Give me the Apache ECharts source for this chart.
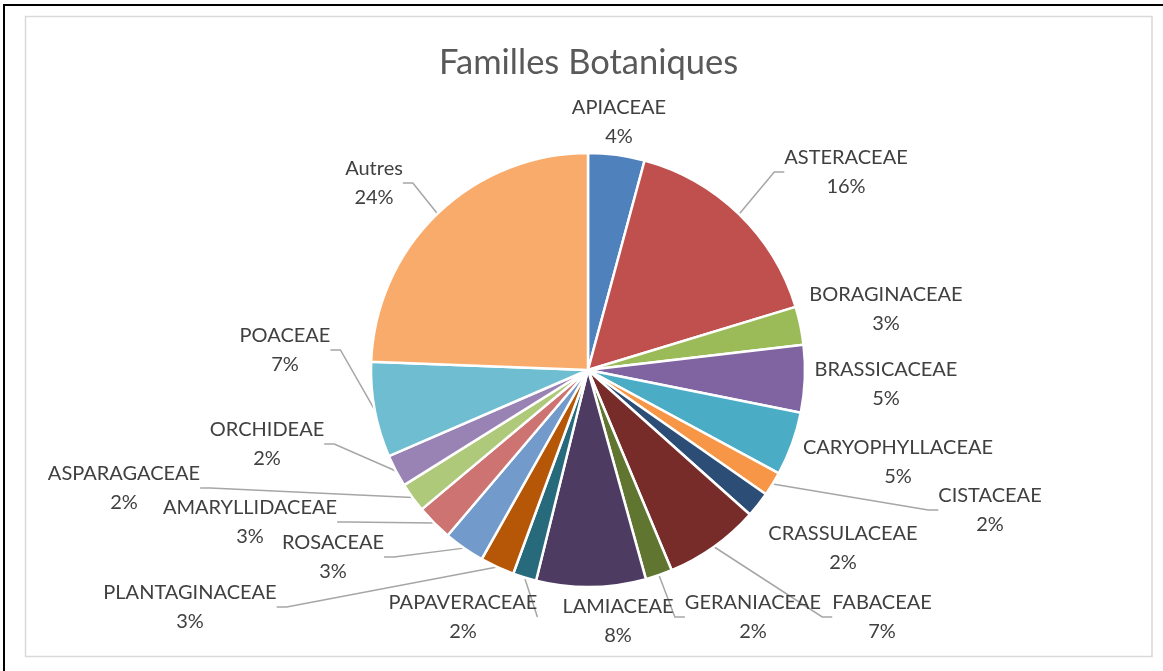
<!DOCTYPE html>
<html>
<head>
<meta charset="utf-8">
<script src="https://cdn.jsdelivr.net/npm/echarts@6/dist/echarts.min.js"></script>
<style>
html,body{margin:0;padding:0;background:#fff;}
#chart{width:1163px;height:671px;}
</style>
</head>
<body>
<div id="chart"></div>
<script>
const categories = ['APIACEAE','ASTERACEAE','BORAGINACEAE','BRASSICACEAE','CARYOPHYLLACEAE','CISTACEAE','CRASSULACEAE','FABACEAE','GERANIACEAE','LAMIACEAE','PAPAVERACEAE','PLANTAGINACEAE','ROSACEAE','AMARYLLIDACEAE','ASPARAGACEAE','ORCHIDEAE','POACEAE','Autres'];
const values = [4.2, 16.1, 2.85, 5.0, 4.75, 1.8, 1.9, 7.1, 2.0, 8.15, 1.75, 2.55, 3.05, 2.7, 2.2, 2.4, 7.1, 24.4];
const colors = ['#4F81BD','#C0504D','#9BBB59','#8064A2','#4BACC6','#F79646','#2C4D75','#772C2A','#5F7530','#4D3B62','#276A7C','#B65708','#729ACA','#CD7371','#AFC97A','#9983B5','#6FBDD1','#F9AB6B'];
const noLeader = ['APIACEAE','BORAGINACEAE','BRASSICACEAE','CARYOPHYLLACEAE','CRASSULACEAE','LAMIACEAE'];
// label block centres (layout, not data)
const labelPos = [[619,122],[846,172],[886,309],[886,384],[898,462],[990,510],[843,548],[882,617],[753,617],[618,621],[463,617],[190,607],[333,557],[250,522],[124,488],[267,444],[285,350],[374,183]];

const chart = echarts.init(document.getElementById('chart'), null, {renderer:'canvas'});
const data = categories.map((c, i) => ({
  name: c,
  value: values[i],
  itemStyle: {color: colors[i]},
  labelLine: {show: noLeader.indexOf(c) < 0}
}));

chart.setOption({
  animation: false,
  backgroundColor: '#fff',
  title: {
    text: 'Familles Botaniques',
    left: 434,
    top: 40,
    textStyle: {fontFamily: 'Lato', fontSize: 34.5, fontWeight: 'normal', color: '#595959'}
  },
  graphic: [
    {type:'rect', shape:{x:4, y:5, width:1175, height:690}, style:{fill:'none', stroke:'#000', lineWidth:2}, silent:true},
    {type:'rect', shape:{x:25.5, y:16.5, width:1126.5, height:640}, style:{fill:'none', stroke:'#d9d9d9', lineWidth:1.5}, silent:true}
  ],
  series: [{
    type: 'pie',
    center: [588, 370],
    radius: [0, 217],
    startAngle: 90,
    clockwise: true,
    avoidLabelOverlap: false,
    itemStyle: {borderColor:'#fff', borderWidth:2.5},
    label: {
      show: true,
      position: 'outside',
      fontFamily: 'Lato',
      fontSize: 20,
      color: '#404040',
      lineHeight: 29,
      align: 'center',
      formatter: p => p.name + '\n' + Math.round(p.percent) + '%'
    },
    labelLine: {show: true, length: 10, length2: 10, lineStyle: {color:'#a6a6a6', width:1.5}},
    labelLayout: function (params) {
      const p = labelPos[params.dataIndex];
      return {x: p[0], y: p[1], align: 'center', verticalAlign: 'middle'};
    },
    emphasis: {disabled: true},
    data: data
  }]
});
</script>
</body>
</html>
